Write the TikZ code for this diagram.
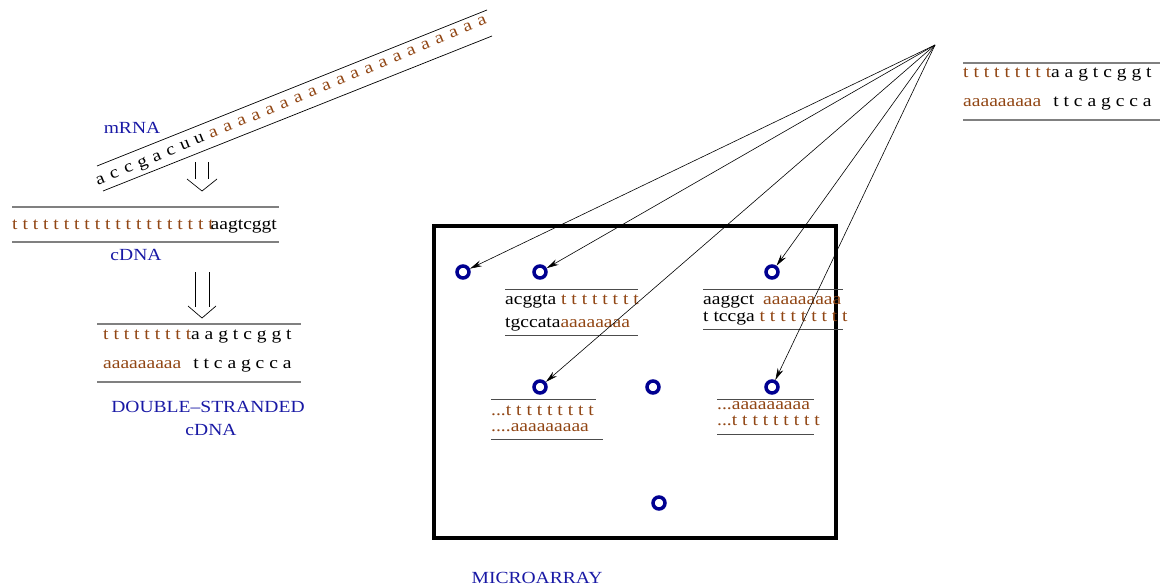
\documentclass[tikz,border=0pt]{standalone}
\usepackage{fontspec}
\setmainfont{Liberation Serif}[FakeStretch=1.15]
\usetikzlibrary{arrows.meta}
\definecolor{brn}{RGB}{145,70,20}
\definecolor{lblc}{RGB}{25,25,165}
\definecolor{spot}{RGB}{0,0,145}
\newcommand{\br}[1]{\textcolor{brn}{#1}}
\begin{document}
\begin{tikzpicture}[x=1pt,y=-1pt,
  seq/.style={font=\fontsize{17}{19}\selectfont, inner sep=0pt, anchor=mid west},
  lbl/.style={font=\fontsize{17}{19}\selectfont, text=lblc, inner sep=0pt},
  rule/.style={draw=gray, line width=1.3pt},
  thinrule/.style={draw=gray!60!black, line width=0.9pt},
  spotc/.style={circle, draw=spot, line width=3.5pt, minimum size=12pt, inner sep=0pt},
  probe/.style={-{Stealth[length=12pt,width=6pt]}, line width=0.6pt},
  hollow/.style={line width=0.7pt}]
\useasboundingbox (0,0) rectangle (1161,586);

% mRNA strand
\draw[line width=0.7pt] (97,166) -- (487,10);
\draw[line width=0.7pt] (103,191) -- (492,36);
\foreach \l [count=\i from 0] in {a,c,c,g,a,c,u,u}
  \node[seq, anchor=mid, rotate=22] (m\i) at ({101+\i*14.13},{182-\i*5.88}) {\l};
\foreach \i in {8,...,27}
  \node[seq, anchor=mid, rotate=22, text=brn] (m\i) at ({101+\i*14.13},{182-\i*5.88}) {a};
\node[lbl] (lmrna) at (132,128) {mRNA};

% hollow arrow 1
\draw[hollow] (195,162) -- (195,179) (208,162) -- (208,179);
\draw[hollow] (187,179) -- (202,191) -- (217,179);

% cDNA
\draw[rule] (12,207) -- (279,207);
\draw[rule] (12,242) -- (279,242);
\node[seq] (cdna) at (12,227) {\br{t t t t t t t t t t t t t t t t t t t t}\hspace{-3pt}aagtcggt};
\node[lbl] (lcdna) at (136,255) {cDNA};

% hollow arrow 2
\draw[hollow] (195,272) -- (195,307) (209,272) -- (209,307);
\draw[hollow] (188,306) -- (202,318) -- (216,306);

% double-stranded cDNA
\draw[rule] (97,324) -- (301,324);
\draw[rule] (97,382) -- (301,382);
\node[seq] (ds1) at (103,337) {\br{t t t t t t t t t}a a g t c g g t};
\node[seq] (ds2) at (103,366) {\br{aaaaaaaaa}\hspace{12pt}t t c a g c c a};
\node[lbl] (lds1) at (208,407) {DOUBLE–STRANDED};
\node[lbl] (lds2) at (211,430) {cDNA};

% top right probe
\draw[rule] (963,63) -- (1160,63);
\draw[rule] (963,120) -- (1160,120);
\node[seq] (tr1) at (963,75) {\br{t t t t t t t t t}a a g t c g g t};
\node[seq] (tr2) at (963,104) {\br{aaaaaaaaa}\hspace{12pt}t t c a g c c a};

% microarray
\node[draw, line width=3.5pt, minimum width=402pt, minimum height=312pt, inner sep=0pt] (array) at (635,382) {};
\node[lbl] (lmicro) at (537,578) {MICROARRAY};

\node[spotc] (s1) at (463,272) {};
\node[spotc] (s2) at (540,272) {};
\node[spotc] (s3) at (772,272) {};
\node[spotc] (s4) at (540,387) {};
\node[spotc] (s5) at (653,387) {};
\node[spotc] (s6) at (772,387) {};
\node[spotc] (s7) at (659,503) {};

% box A
\draw[thinrule] (505,289) -- (638,289);
\draw[thinrule] (505,335) -- (638,335);
\node[seq] (a1) at (505,302) {acggta \br{t t t t t t t t}};
\node[seq] (a2) at (505,325) {tgccata\br{aaaaaaaa}};
% box B
\draw[thinrule] (703,289) -- (843,289);
\draw[thinrule] (703,329) -- (843,329);
\node[seq] (b1) at (703,302) {aaggct\hspace{9pt}\br{aaaaaaaaa}};
\node[seq] (b2) at (703,319) {t tccga \br{t t t t t t t t t}};
% box C
\draw[thinrule] (491,399) -- (596,399);
\draw[thinrule] (491,439) -- (603,439);
\node[seq, text=brn] (c1) at (491,413) {...t t t t t t t t t};
\node[seq, text=brn] (c2) at (491,429) {....aaaaaaaaa};
% box D
\draw[thinrule] (717,399) -- (814,399);
\draw[thinrule] (717,434) -- (814,434);
\node[seq, text=brn] (d1) at (717,407) {...aaaaaaaaa};
\node[seq, text=brn] (d2) at (717,423) {...t t t t t t t t t};

% probes
\coordinate (apex) at (935,45);
\draw[probe] (apex) -- (s1);
\draw[probe] (apex) -- (s2);
\draw[probe] (apex) -- (s4);
\draw[probe] (apex) -- (s3);
\draw[probe] (apex) -- (s6);
\end{tikzpicture}
\end{document}
